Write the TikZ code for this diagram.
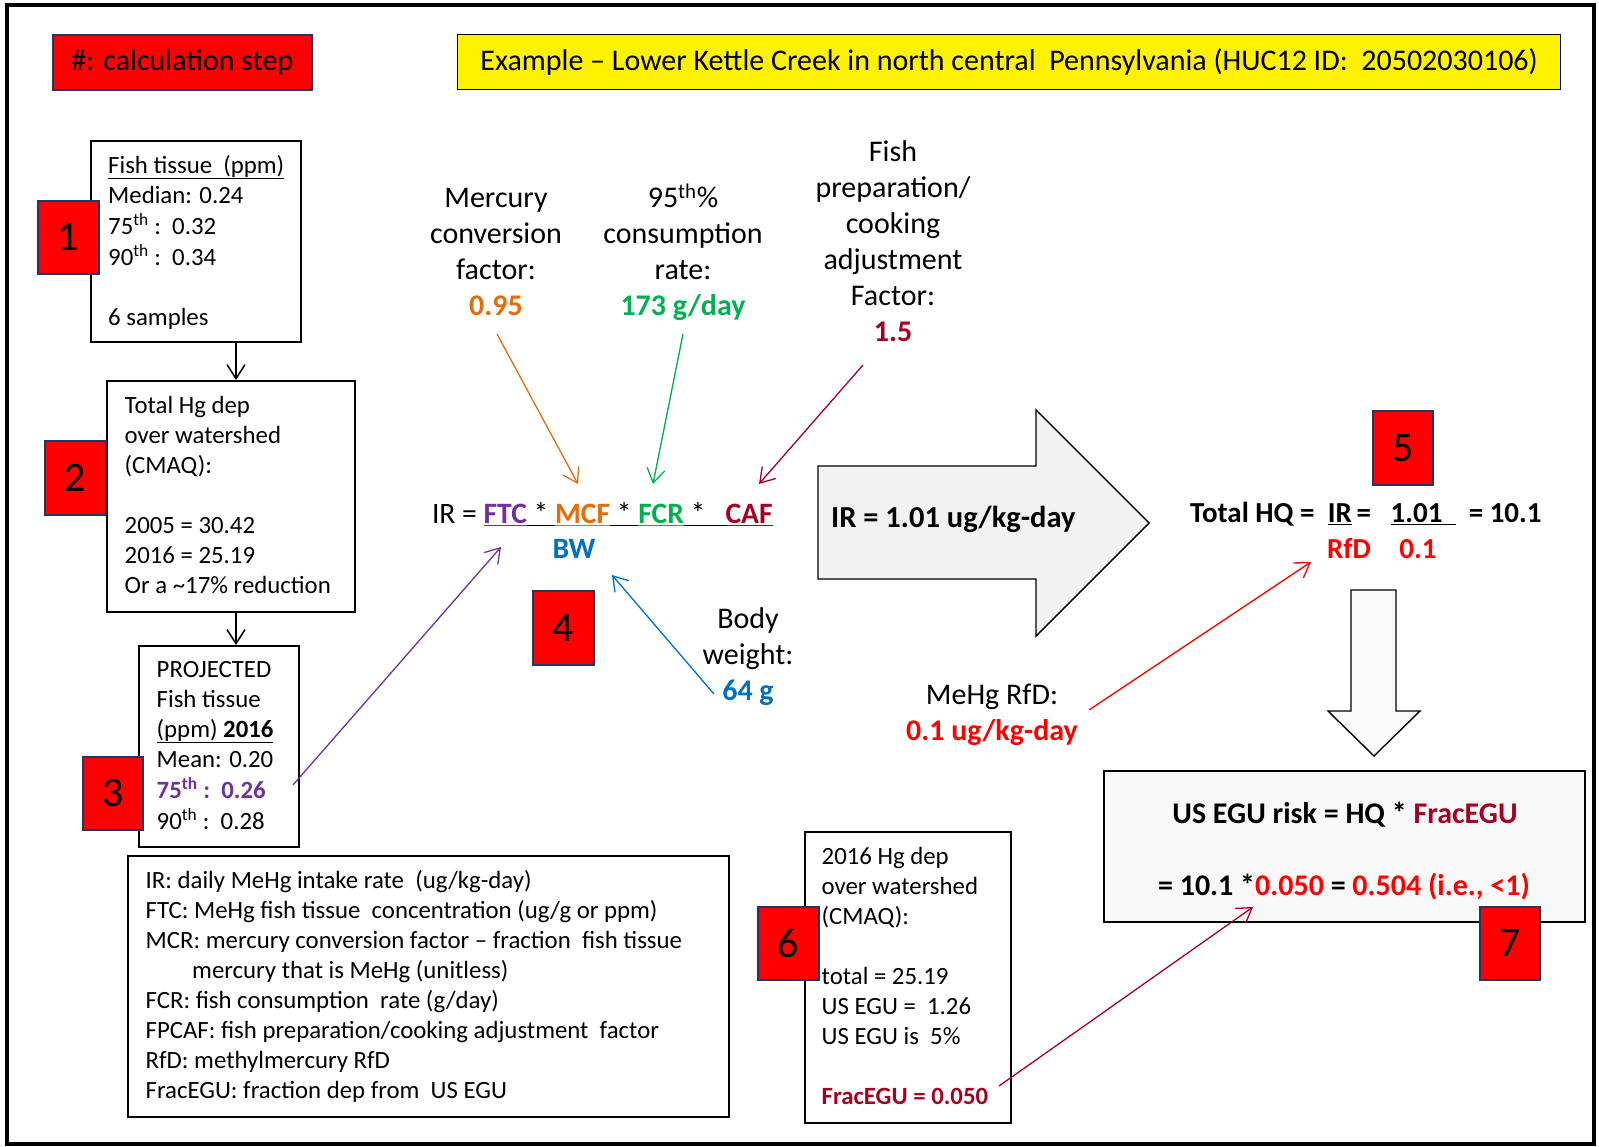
\documentclass[tikz,border=0pt]{standalone}
\usepackage{fontspec}
\setmainfont{Carlito}
\usetikzlibrary{arrows.meta,calc}
\definecolor{cpurple}{HTML}{7030A0}
\definecolor{corange}{HTML}{E46C0A}
\definecolor{cgreen}{HTML}{00B050}
\definecolor{cdred}{HTML}{A50021}
\definecolor{cblue}{HTML}{0070C0}
\definecolor{cred}{HTML}{FF0000}
\definecolor{cnavy}{HTML}{1F3864}
\definecolor{cgrayA}{HTML}{F2F2F2}
\definecolor{cgrayB}{HTML}{FAFAFA}
\definecolor{cgrayC}{HTML}{F8F8F8}
\newcommand{\fs}[2]{\fontsize{#1}{#2}\selectfont}
\begin{document}
\begin{tikzpicture}[x=1pt,y=-1pt,
  box/.style={draw=black, line width=1.6pt, inner sep=0pt, anchor=north west},
  stepbox/.style={draw=cnavy, line width=1.6pt, fill=cred, inner sep=0pt, anchor=north west, font=\fs{42}{50}},
  txt/.style={inner sep=0pt, anchor=north west, align=left, font=\fs{24.8}{30}},
  lbl/.style={inner sep=0pt, anchor=north, align=center, font=\fs{30}{36}},
  big/.style={inner sep=0pt, font=\fs{29}{35}},
  con/.style={line width=1.3pt, -{Straight Barb[length=14pt,width=18pt]}},
  fat/.style={line width=1.4pt, draw=black},
]
\useasboundingbox (0,0) rectangle (1599,1147);
\draw[line width=4.5pt] (7,5) rectangle (1594,1144);

% header boxes
\node[stepbox, minimum width=259, minimum height=55, font=\fs{30}{35}] (legend) at (52,34) {\#: calculation step};
\node[box, fill=yellow, line width=1.2pt, minimum width=1103, minimum height=55, font=\fs{30}{35}] (title) at (457,34)
  {Example -- Lower Kettle Creek in north central\ \ Pennsylvania (HUC12 ID:\ \ 20502030106)};

% box 1
\node[box, minimum width=210, minimum height=201] (b1) at (90,140) {};
\node[txt] (t1) at (108,152) {\strut\underline{Fish tissue\ \ (ppm)}\\
  \strut Median: 0.24\\
  \strut 75\textsuperscript{th} :\ \ 0.32\\
  \strut 90\textsuperscript{th} :\ \ 0.34\\
  \strut\\
  \strut 6 samples};
\node[stepbox, minimum width=61, minimum height=73] (s1) at (37,200) {1};

% box 2
\node[box, minimum width=248, minimum height=231] (b2) at (106,380) {};
\node[txt] (t2) at (124.5,392) {\strut Total Hg dep\\
  \strut over watershed\\
  \strut (CMAQ):\\
  \strut\\
  \strut 2005 = 30.42\\
  \strut 2016 = 25.19\\
  \strut Or a \textasciitilde17\% reduction};
\node[stepbox, minimum width=61, minimum height=74] (s2) at (44,440) {2};

% box 3
\node[box, minimum width=160, minimum height=201] (b3) at (138,645) {};
\node[txt] (t3) at (156.5,656) {\strut PROJECTED\\
  \strut Fish tissue\\
  \strut\underline{(ppm) \textbf{2016}}\\
  \strut Mean: 0.20\\
  \strut\textcolor{cpurple}{\textbf{75\textsuperscript{th} :\ \ 0.26}}\\
  \strut 90\textsuperscript{th} :\ \ 0.28};
\node[stepbox, minimum width=60, minimum height=73] (s3) at (82,756) {3};

\coordinate (ax) at (236,0);
\draw[con, line width=1.5pt] (b1.south -| ax) -- (b2.north -| ax);
\draw[con, line width=1.5pt] (b2.south -| ax) -- (b3.north -| ax);

% definitions box
\node[box, minimum width=601, minimum height=261] (defs) at (127,855) {};
\node[txt] (tdefs) at (145.5,867) {\strut IR: daily MeHg intake rate\ \ (ug/kg-day)\\
  \strut FTC: MeHg fish tissue\ \ concentration (ug/g or ppm)\\
  \strut MCR: mercury conversion factor -- fraction\ \ fish tissue\\
  \strut\hspace*{46.5pt}mercury that is MeHg (unitless)\\
  \strut FCR: fish consumption\ \ rate (g/day)\\
  \strut FPCAF: fish preparation/cooking adjustment\ \ factor\\
  \strut RfD: methylmercury RfD\\
  \strut FracEGU: fraction dep from\ \ US EGU};

% labels above formula
\node[lbl] (lmcf) at (496,182.3) {\strut Mercury\\ \strut conversion\\ \strut factor:\\ \strut\textcolor{corange}{\textbf{0.95}}};
\node[lbl] (lfcr) at (683,182.3) {\strut 95\textsuperscript{th}\%\\ \strut consumption\\ \strut rate:\\ \strut\textcolor{cgreen}{\textbf{173 g/day}}};
\node[lbl] (lcaf) at (893,136.3) {\strut Fish\\ \strut preparation/\\ \strut cooking\\ \strut adjustment\\ \strut Factor:\\ \strut\textcolor{cdred}{\textbf{1.5}}};
\node[lbl] (lbw) at (748,603.2) {\strut Body\\ \strut weight:\\ \strut\textcolor{cblue}{\textbf{64 g}}};

% formula
\node[big, anchor=base west, font=\fs{29.6}{35}] (formula) at (431.8,523.3)
  {IR = \textcolor{cpurple}{\underline{\textbf{FTC}}}\underline{\ *\ }\textcolor{corange}{\underline{\textbf{MCF}}}\underline{\ *\ }\textcolor{cgreen}{\underline{\textbf{FCR}}}\underline{\ *\ \ \ }\textcolor{cdred}{\underline{\textbf{CAF}}}};
\node[big, text=cblue, font=\fs{29.6}{35}\bfseries] (bw) at (574,549) {BW};
\node[stepbox, minimum width=61, minimum height=74] (s4) at (532,590) {4};

\coordinate (omcf) at (497,334);  \coordinate (emcf) at (578,484);
\coordinate (ofcr) at (683,334);  \coordinate (efcr) at (653,484);
\coordinate (ocaf) at (863,365);  \coordinate (ecaf) at (759,484);
\coordinate (oftc) at (293,785);  \coordinate (eftc) at (501,547);
\coordinate (obw)  at (714,694);  \coordinate (ebw)  at (612,575);
\draw[con, corange] (omcf) -- (emcf);
\draw[con, cgreen] (ofcr) -- (efcr);
\draw[con, cdred] (ocaf) -- (ecaf);
\draw[con, cpurple] (oftc) -- (eftc);
\draw[con, cblue] (obw) -- (ebw);

% big right arrow
\draw[fat, fill=cgrayA] (818,466) -- (1036,466) -- (1036,410) -- (1149,523) -- (1036,636) -- (1036,579) -- (818,579) -- cycle;
\node[big, anchor=base west, font=\fs{30.5}{35}\bfseries] (irval) at (831,527.5) {IR = 1.01 ug/kg-day};

% step 5
\node[stepbox, minimum width=60, minimum height=74] (s5) at (1372,410) {5};
\node[big, anchor=base west, font=\fs{29}{35}\bfseries] (hq) at (1190,522.3)
  {Total HQ =\ \ \underline{IR}\,=\ \ \ \underline{1.01\ \ }\ \ = 10.1};
\node[big, anchor=base, text=cred, font=\fs{29}{35}\bfseries] (rfd) at (1349,558.3) {RfD};
\node[big, anchor=base, text=cred, font=\fs{29}{35}\bfseries] (rfdv) at (1418,558.3) {0.1};
\node[lbl] (lrfd) at (992,678.7) {\strut MeHg RfD:\\ \strut\textcolor{cred}{\textbf{0.1 ug/kg-day}}};
\coordinate (orfd) at (1089,710); \coordinate (erfd) at (1311,562);
\draw[con, cred] (orfd) -- (erfd);

% down arrow
\draw[fat, fill=cgrayB] (1351,590) -- (1396,590) -- (1396,711) -- (1420,711) -- (1374,756) -- (1328,711) -- (1351,711) -- cycle;

% box 7
\node[box, fill=cgrayC, minimum width=481, minimum height=151] (b7) at (1103,770) {};
\node[big, anchor=base, font=\fs{30}{35}\bfseries] (risk1) at (1345,823.6) {US EGU risk = HQ * \textcolor{cdred}{FracEGU}};
\node[big, anchor=base, font=\fs{30}{35}\bfseries] (risk2) at (1344,895.3) {= 10.1 *\textcolor{cred}{0.050} = \textcolor{cred}{0.504 (i.e., <1)}};
\node[stepbox, minimum width=60, minimum height=73] (s7) at (1479,906) {7};

% box 6
\node[box, minimum width=206, minimum height=291] (b6) at (804,831) {};
\node[txt] (t6) at (821.5,843.5) {\strut 2016 Hg dep\\
  \strut over watershed\\
  \strut (CMAQ):\\
  \strut\\
  \strut total = 25.19\\
  \strut US EGU =\ \ 1.26\\
  \strut US EGU is\ \ 5\%\\
  \strut\\
  \strut\textcolor{cdred}{\textbf{FracEGU = 0.050}}};
\node[stepbox, minimum width=61, minimum height=73] (s6) at (757,906) {6};
\coordinate (ofrac) at (999,1086); \coordinate (efrac) at (1253,907);
\draw[con, cdred] (ofrac) -- (efrac);
\end{tikzpicture}
\end{document}
